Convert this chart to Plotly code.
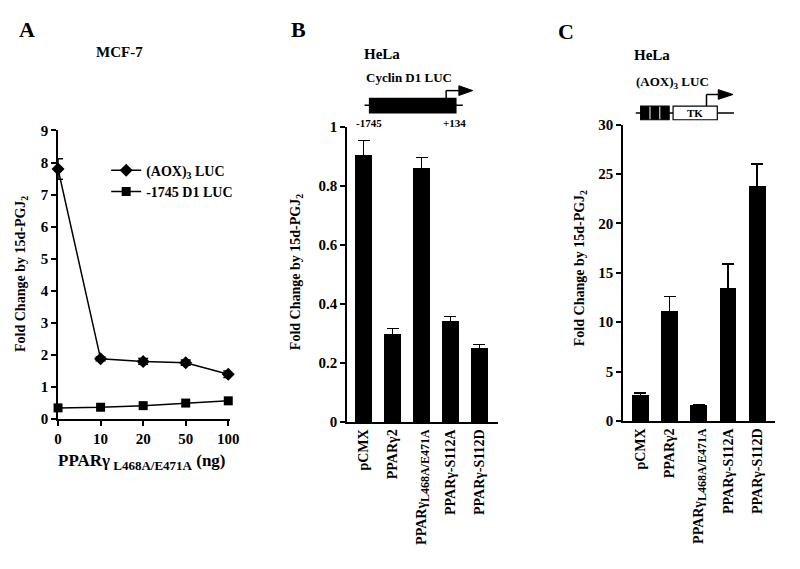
import plotly.graph_objects as go

# ---------------- data ----------------
doses = ["0", "10", "20", "50", "100"]
aox_vals = [7.8, 1.88, 1.8, 1.76, 1.4]
aox_err = [0.32, 0.06, 0.09, 0.08, 0.1]
d1_vals = [0.35, 0.37, 0.42, 0.5, 0.57]
d1_err = [0.03, 0.02, 0.03, 0.03, 0.03]

constructs = ["pCMX", "PPARγ2",
              "PPARγ<sub><span style='font-size:12px'>L468A/E471A</span></sub>",
              "PPARγ-S112A", "PPARγ-S112D"]
b_vals = [0.905, 0.30, 0.862, 0.345, 0.252]
b_err = [0.048, 0.016, 0.033, 0.012, 0.011]
c_vals = [2.65, 11.2, 1.7, 13.5, 23.8]
c_err = [0.2, 1.4, 0.0, 2.4, 2.2]

W, H = 800, 569
def px(x):
    return x / W
def py(y):
    return 1 - y / H

FONT = "Liberation Serif"
fig = go.Figure()

# Panel A
fig.add_trace(go.Scatter(
    x=list(range(len(doses))), y=aox_vals, mode="lines+markers", name="(AOX)<sub>3</sub> LUC",
    line=dict(color="black", width=1.5), marker=dict(symbol="diamond", size=10, color="black"),
    error_y=dict(type="data", array=aox_err, color="black", thickness=1.5, width=5),
    xaxis="x", yaxis="y", cliponaxis=False))
fig.add_trace(go.Scatter(
    x=list(range(len(doses))), y=d1_vals, mode="lines+markers", name="-1745 D1 LUC",
    line=dict(color="black", width=1.5), marker=dict(symbol="square", size=9, color="black"),
    error_y=dict(type="data", array=d1_err, color="black", thickness=1.5, width=4),
    xaxis="x", yaxis="y", cliponaxis=False))

# Panel B
fig.add_trace(go.Bar(
    x=list(range(len(constructs))), y=b_vals, marker=dict(color="black", line=dict(width=0)),
    width=0.58, showlegend=False,
    error_y=dict(type="data", array=b_err, color="black", thickness=1.5, width=6),
    xaxis="x2", yaxis="y2"))

# Panel C
fig.add_trace(go.Bar(
    x=list(range(len(constructs))), y=c_vals, marker=dict(color="black", line=dict(width=0)),
    width=0.58, showlegend=False,
    error_y=dict(type="data", array=c_err, color="black", thickness=1.5, width=6),
    xaxis="x3", yaxis="y3"))

axis_common = dict(showline=True, linecolor="black", linewidth=1.5, showgrid=False,
                   zeroline=False, ticks="outside", tickcolor="black", tickwidth=1.5,
                   ticklen=5, tickfont=dict(family=FONT, size=15, color="black", weight="bold"))
xcat_font = dict(family=FONT, size=14, color="black", weight="bold")

fig.update_layout(
    width=W, height=H, margin=dict(l=0, r=0, t=0, b=0),
    paper_bgcolor="white", plot_bgcolor="white",
    font=dict(family=FONT, color="black", weight="bold"),
    xaxis=dict(**axis_common, domain=[px(55), px(230)], range=[0, 4.04],
               tickmode="array", tickvals=list(range(len(doses))), ticktext=doses, anchor="y"),
    yaxis=dict(**axis_common, domain=[py(423), py(126)], range=[0, 9],
               tickvals=list(range(0, 10)), anchor="x"),
    xaxis2=dict(**{**axis_common, "ticks": "", "tickfont": xcat_font}, domain=[px(349), px(503)],
                range=[-0.58, 4.65], tickmode="array", tickvals=list(range(len(constructs))),
                ticktext=constructs, tickangle=-90, anchor="y2"),
    yaxis2=dict(**axis_common, domain=[py(426), py(122)], range=[0, 1],
                tickvals=[0, 0.2, 0.4, 0.6, 0.8, 1], ticktext=["0", "0.2", "0.4", "0.6", "0.8", "1"],
                anchor="x2"),
    xaxis3=dict(**{**axis_common, "ticks": "", "tickfont": xcat_font}, domain=[px(630), px(785)],
                range=[-0.6, 4.62], tickmode="array", tickvals=list(range(len(constructs))),
                ticktext=constructs, tickangle=-90, anchor="y3"),
    yaxis3=dict(**axis_common, domain=[py(425), py(120)], range=[0, 30],
                tickvals=[0, 5, 10, 15, 20, 25, 30], anchor="x3"),
    legend=dict(x=px(104), y=py(151), xanchor="left", yanchor="top", bgcolor="rgba(0,0,0,0)",
                font=dict(family=FONT, size=14, color="black", weight="bold"),
                tracegroupgap=0, itemwidth=30),
    bargap=0,
)

def ann(x, y, text, size, xanchor="center", angle=0):
    fig.add_annotation(x=px(x), y=py(y), xref="paper", yref="paper", text=text, showarrow=False,
                       xanchor=xanchor, yanchor="middle", textangle=angle,
                       font=dict(family=FONT, size=size, color="black", weight="bold"))

YT = "Fold Change by 15d-PGJ<sub>2</sub>"
ann(18, 274, YT, 14, angle=-90)
ann(298, 272, YT, 14, angle=-90)
ann(587, 268, YT, 14, angle=-90)

ann(13, 22, "A", 22, "left")
ann(118, 45, "MCF-7", 15)
ann(140, 467, "PPARγ<sub><span style='font-size:13px'> L468A/E471A</span></sub> (ng)", 17)

ann(290, 22, "B", 22, "left")
ann(385, 47, "HeLa", 15)
ann(412, 72, "Cyclin D1 LUC", 13)
ann(372, 118, "-1745", 11)
ann(459, 118, "+134", 11)

ann(562, 24, "C", 22, "left")
ann(660, 48, "HeLa", 15)
ann(680, 77, "(AOX)<sub>3</sub> LUC", 13)

def line(x0, y0, x1, y1, w=1.5, color="black"):
    fig.add_shape(type="line", xref="paper", yref="paper", x0=px(x0), y0=py(y0), x1=px(x1), y1=py(y1),
                  line=dict(color=color, width=w))

def rect(x0, y0, x1, y1, fill):
    fig.add_shape(type="rect", xref="paper", yref="paper", x0=px(x0), y0=py(y0), x1=px(x1), y1=py(y1),
                  line=dict(color="black", width=1.2), fillcolor=fill)

def tri(xa, ya, xb, h):
    path = f"M {px(xa)},{py(ya - h/2)} L {px(xa)},{py(ya + h/2)} L {px(xb)},{py(ya)} Z"
    fig.add_shape(type="path", xref="paper", yref="paper", path=path,
                  line=dict(color="black", width=1), fillcolor="black")

# Panel B diagram
line(367, 100, 467, 100)
rect(372, 93, 460, 108, "black")
line(450, 93, 450, 85)
line(450, 85, 463, 85)
tri(463, 85, 477, 10)

# Panel C diagram
line(643, 108, 743, 108)
rect(648, 101, 677, 115, "black")
line(657.5, 101.5, 657.5, 114.5, w=1, color="white")
line(667.5, 101.5, 667.5, 114.5, w=1, color="white")
rect(681, 101, 726, 115, "white")
ann(703.5, 108, "TK", 11)
line(715, 101, 715, 89)
line(715, 89, 727, 89)
tri(727, 89, 742, 10)

fig.write_html("out.html", config={"displayModeBar": False},
               post_script="document.body.style.margin='0';document.body.style.overflow='hidden';")
